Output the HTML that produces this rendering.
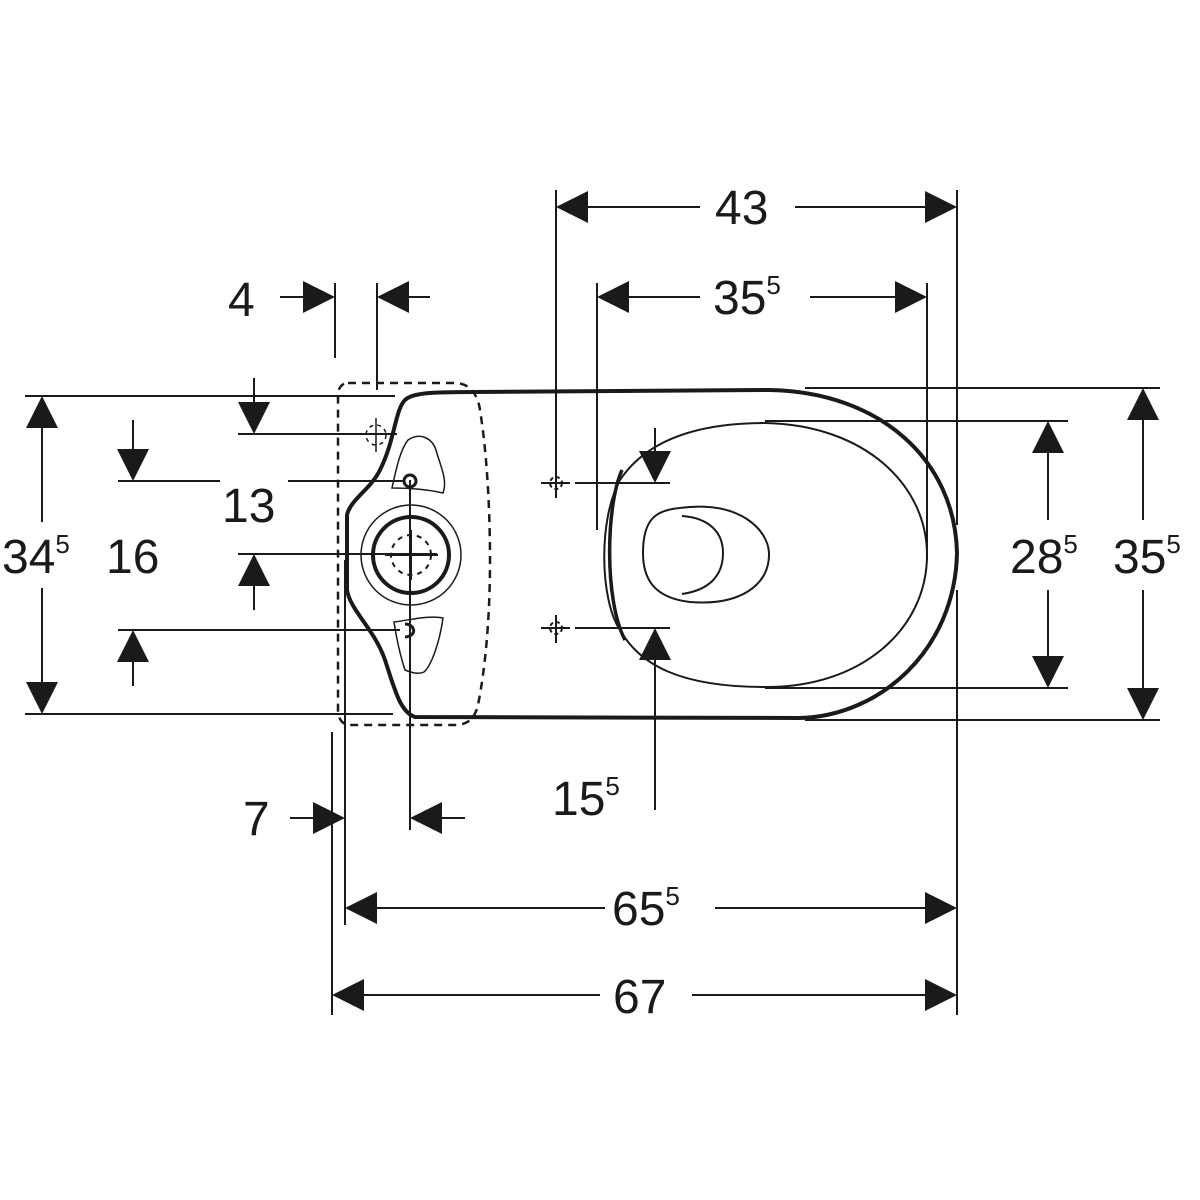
<!DOCTYPE html>
<html><head><style>body{margin:0;background:#fff}svg{display:block}text{font-family:"Liberation Sans",Arial,sans-serif;fill:#1a1a1a}</style></head>
<body>
<svg width="1200" height="1200" viewBox="0 0 1200 1200" xmlns="http://www.w3.org/2000/svg">
<defs>
<path id="aR" d="M0 0 L-32 -16 L-32 16 Z" fill="#1a1a1a"/>
</defs>
<g stroke="#1a1a1a" fill="none" stroke-width="2">
<!-- extension lines -->
<line x1="556" y1="190" x2="556" y2="470"/>
<line x1="957" y1="190" x2="957" y2="525"/>
<line x1="957" y1="590" x2="957" y2="1015"/>
<line x1="597" y1="283" x2="597" y2="530"/>
<line x1="927" y1="283" x2="927" y2="560"/>
<line x1="335" y1="283" x2="335" y2="358"/>
<line x1="377" y1="283" x2="377" y2="390"/>
<line x1="25" y1="396" x2="395" y2="396"/>
<line x1="25" y1="714" x2="393" y2="714"/>
<line x1="118" y1="481" x2="220" y2="481"/><line x1="288" y1="481" x2="403" y2="481"/>
<line x1="118" y1="630" x2="400" y2="630"/>
<line x1="238" y1="434" x2="397" y2="434"/>
<line x1="238" y1="554" x2="437" y2="554"/>
<line x1="765" y1="421" x2="1068" y2="421"/>
<line x1="765" y1="688" x2="1068" y2="688"/>
<line x1="805" y1="388" x2="1160" y2="388"/>
<line x1="805" y1="720" x2="1160" y2="720"/>
<line x1="575" y1="483" x2="670" y2="483"/>
<line x1="575" y1="628" x2="670" y2="628"/>
<line x1="345" y1="560" x2="345" y2="925"/>
<line x1="410" y1="480" x2="410" y2="830"/>
<line x1="332" y1="732" x2="332" y2="1015"/>
<!-- dim lines -->
<line x1="580" y1="207" x2="700" y2="207"/><line x1="795" y1="207" x2="935" y2="207"/>
<line x1="620" y1="297" x2="700" y2="297"/><line x1="810" y1="297" x2="905" y2="297"/>
<line x1="280" y1="297" x2="310" y2="297"/><line x1="400" y1="297" x2="430" y2="297"/>
<line x1="42" y1="420" x2="42" y2="522"/><line x1="42" y1="588" x2="42" y2="690"/>
<line x1="133" y1="420" x2="133" y2="455"/><line x1="133" y1="655" x2="133" y2="686"/>
<line x1="254" y1="378" x2="254" y2="410"/><line x1="254" y1="578" x2="254" y2="610"/>
<line x1="1048" y1="445" x2="1048" y2="520"/><line x1="1048" y1="590" x2="1048" y2="665"/>
<line x1="1143" y1="412" x2="1143" y2="520"/><line x1="1143" y1="590" x2="1143" y2="697"/>
<line x1="655" y1="428" x2="655" y2="458"/><line x1="655" y1="652" x2="655" y2="810"/>
<line x1="290" y1="818" x2="320" y2="818"/><line x1="435" y1="818" x2="465" y2="818"/>
<line x1="370" y1="908" x2="605" y2="908"/><line x1="715" y1="908" x2="933" y2="908"/>
<line x1="357" y1="995" x2="600" y2="995"/><line x1="692" y1="995" x2="933" y2="995"/>
</g>
<g fill="#1a1a1a">
<use href="#aR" transform="translate(556,207) rotate(180)"/><use href="#aR" transform="translate(957,207)"/>
<use href="#aR" transform="translate(597,297) rotate(180)"/><use href="#aR" transform="translate(927,297)"/>
<use href="#aR" transform="translate(335,297)"/><use href="#aR" transform="translate(377,297) rotate(180)"/>
<use href="#aR" transform="translate(42,396) rotate(-90)"/><use href="#aR" transform="translate(42,714) rotate(90)"/>
<use href="#aR" transform="translate(133,481) rotate(90)"/><use href="#aR" transform="translate(133,630) rotate(-90)"/>
<use href="#aR" transform="translate(254,434) rotate(90)"/><use href="#aR" transform="translate(254,554) rotate(-90)"/>
<use href="#aR" transform="translate(1048,421) rotate(-90)"/><use href="#aR" transform="translate(1048,688) rotate(90)"/>
<use href="#aR" transform="translate(1143,388) rotate(-90)"/><use href="#aR" transform="translate(1143,720) rotate(90)"/>
<use href="#aR" transform="translate(655,483) rotate(90)"/><use href="#aR" transform="translate(655,628) rotate(-90)"/>
<use href="#aR" transform="translate(345,818)"/><use href="#aR" transform="translate(410,818) rotate(180)"/>
<use href="#aR" transform="translate(345,908) rotate(180)"/><use href="#aR" transform="translate(957,908)"/>
<use href="#aR" transform="translate(332,995) rotate(180)"/><use href="#aR" transform="translate(957,995)"/>
</g>
<!-- drawing -->
<g stroke="#1a1a1a" fill="none">
<path d="M475 392 L770 390 C880 392 955 460 957 553 C955 650 880 716 800 718 L415 717 C400 712 395 690 385 660 C375 630 350 610 347 590 L347 515 C350 500 370 490 380 470 C395 440 395 410 405 400 C412 393 430 392 475 392 Z" stroke-width="4"/>
<path d="M348 383 L455 383 C470 383 478 395 480 410 C488 460 490 520 490 560 C490 620 485 670 478 705 C475 718 468 725 455 725 L350 725 C342 725 338 718 338 710 L338 395 C338 388 342 383 348 383 Z" stroke-width="2.5" stroke-dasharray="8 6"/>
<path d="M765 423 C865 425 927 485 927 555 C927 630 860 688 765 687 C680 687 640 665 620 630 C600 600 598 520 620 480 C640 450 680 423 765 423 Z" stroke-width="2"/>
<path d="M622 470 C606 505 604 600 625 640" stroke-width="3.5"/>
<path d="M680 508 C740 500 768 530 769 553 C770 585 740 606 690 602 C655 598 643 580 643 553 C643 520 655 510 680 508 Z" stroke-width="2"/>
<path d="M682 516 C710 518 723 533 723 553 C723 575 710 590 682 594" stroke-width="2"/>
<circle cx="411" cy="555" r="50" stroke-width="1.5"/>
<circle cx="411" cy="555" r="38" stroke-width="4"/>
<circle cx="411" cy="555" r="20" stroke-width="2" stroke-dasharray="5 5"/>
<line x1="385" y1="555" x2="438" y2="555" stroke-width="2"/>
<line x1="411" y1="530" x2="411" y2="580" stroke-width="2"/>
<path d="M408 440 C420 432 432 438 436 450 C440 465 448 480 443 493 C430 490 415 488 392 488 C396 470 400 450 408 440 Z" stroke-width="1.5"/>
<circle cx="410" cy="481" r="6" stroke-width="3"/>
<path d="M394 622 C410 620 430 615 443 618 C440 640 432 665 424 672 C418 675 410 672 405 670 C400 655 396 635 394 622 Z" stroke-width="1.5"/>
<path d="M405 624 C415 624 418 636 405 637" stroke-width="3"/>
<circle cx="376" cy="435" r="10" stroke-width="1.5" stroke-dasharray="4 4"/>
<line x1="376" y1="418" x2="376" y2="452" stroke-width="1.5"/>
<g stroke-width="2">
<line x1="541" y1="483" x2="570" y2="483"/><line x1="556" y1="470" x2="556" y2="498"/><circle cx="556" cy="483" r="6" stroke-dasharray="4 3"/>
<line x1="541" y1="628" x2="570" y2="628"/><line x1="556" y1="615" x2="556" y2="643"/><circle cx="556" cy="628" r="6" stroke-dasharray="4 3"/>
</g>
</g>
<g font-size="48">
<text x="715" y="224">43</text>
<text x="713" y="314">35<tspan font-size="26" dy="-20">5</tspan></text>
<text x="228" y="316">4</text>
<text x="2" y="573">34<tspan font-size="26" dy="-20">5</tspan></text>
<text x="106" y="573">16</text>
<text x="222" y="522">13</text>
<text x="1010" y="573">28<tspan font-size="26" dy="-20">5</tspan></text>
<text x="1113" y="573">35<tspan font-size="26" dy="-20">5</tspan></text>
<text x="552" y="815">15<tspan font-size="26" dy="-20">5</tspan></text>
<text x="243" y="835">7</text>
<text x="612" y="925">65<tspan font-size="26" dy="-20">5</tspan></text>
<text x="613" y="1013">67</text>
</g>
</svg>
</body></html>
